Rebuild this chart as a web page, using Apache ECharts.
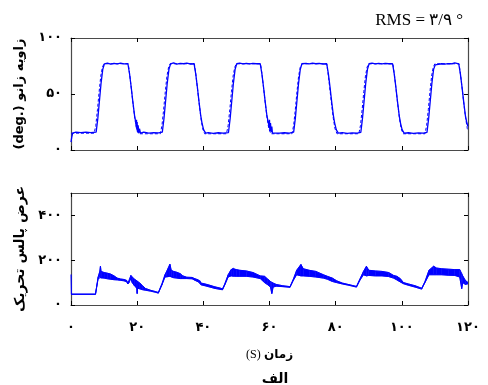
<!DOCTYPE html>
<html><head><meta charset="utf-8">
<script src="https://cdn.jsdelivr.net/npm/echarts@6/dist/echarts.min.js"></script>
<style>html,body{margin:0;padding:0;background:#fff}#c{width:488px;height:385px}</style>
</head><body><div id="c"></div><script>
// Knee angle: measured (solid) and desired (dashed), degrees vs seconds
const angleMeasured = [
 [0,7],[0.2,11],[0.5,15],[1.5,16],[3,15.5],[4.5,16],[6,15.6],[7.6,16],[8.1,28],[8.6,44],[9.1,60],[9.6,72],[10.1,77],
 [11,77.6],[12,76.6],[13,77.4],[14,76.8],[15,77.5],[16,76.9],[17.2,77],[17.7,68],[18.2,56],[18.7,43],[19.2,31],
 [19.5,26],[19.7,21],[19.8,27],[19.9,18],[20.0,25],[20.1,16],[20.3,22],[20.5,15],[20.7,19],[21,15],[22,16],
 [23.5,15],[25,15.6],[26.5,15.2],[27.6,16],
 [28.1,28],[28.6,44],[29.1,60],[29.6,72],[30.1,77],[31,77.8],[32,76.7],[33,77.3],[34,77],[35,77.6],[36,76.8],
 [37.2,77],[37.7,68],[38.2,56],[38.7,43],[39.2,31],[39.6,24],[40.1,18],[40.7,15],[41.5,15.6],[43,14.8],[44.5,15.4],
 [46,15],[47.6,15.6],
 [48.1,28],[48.6,44],[49.1,60],[49.6,72],[50.1,77],[51,77.5],[52,76.8],[53,77.4],[54,76.9],[55,77.3],[56,77],
 [57.2,77],[57.7,68],[58.2,56],[58.7,43],[59.2,31],[59.6,25],[59.9,20],[60.0,27],[60.1,17],[60.3,24],[60.5,16],
 [60.7,21],[60.9,15],[61.5,16],[63,15],[64.5,15.4],[66,15],[67.3,16],
 [67.8,28],[68.3,44],[68.8,60],[69.3,72],[69.8,77],[71,77.4],[72,76.8],[73,77.5],[74,77],[75,77.4],[76,76.8],
 [77.3,77],[77.8,68],[78.3,56],[78.8,43],[79.3,31],[79.7,24],[80.2,18],[80.8,15],[82,15.5],[83.5,14.8],[85,15.3],
 [86.5,15],[87.6,15.8],
 [88.1,28],[88.6,44],[89.1,60],[89.6,72],[90.1,77],[91,77.5],[92,76.9],[93,77.3],[94,76.8],[95,77.4],[96,77],
 [97.2,77],[97.7,68],[98.2,56],[98.7,43],[99.2,31],[99.6,24],[100.1,18],[100.7,15],[102,15.4],[103.5,14.8],
 [105,15.3],[106.5,15],[107.6,15.8],
 [108.1,28],[108.6,44],[109.1,60],[109.6,72],[110.1,76],[111,76.5],[112,77],[113,76.6],[114,77.2],[115,77],
 [116,77.8],[117.2,77],[117.7,68],[118.2,56],[118.7,43],[119.2,31],[119.6,25],[120,21]
];
const angleDesired = [
 [0,15],[7.0,15],[7.5,22],[8.0,36],[8.5,52],[9.0,66],[9.5,74],[10.0,77],[17.3,77],[17.8,66],[18.3,53],[18.8,40],[19.3,28],[19.8,19],[20.4,14.5],
 [27.0,14.5],[27.5,22],[28,36],[28.5,52],[29,66],[29.5,74],[30,77],[37.3,77],[37.8,66],[38.3,53],[38.8,40],[39.3,28],[39.8,19],[40.4,14.5],
 [47,14.5],[47.5,22],[48,36],[48.5,52],[49,66],[49.5,74],[50,77],[57.3,77],[57.8,66],[58.3,53],[58.8,40],[59.3,28],[59.8,19],[60.4,14.5],
 [66.8,14.5],[67.3,22],[67.8,36],[68.3,52],[68.8,66],[69.3,74],[69.8,77],[77.3,77],[77.8,66],[78.3,53],[78.8,40],[79.3,28],[79.8,19],[80.4,14.5],
 [87,14.5],[87.5,22],[88,36],[88.5,52],[89,66],[89.5,74],[90,77],[97.3,77],[97.8,66],[98.3,53],[98.8,40],[99.3,28],[99.8,19],[100.4,14.5],
 [107,14.5],[107.5,22],[108,36],[108.5,52],[109,66],[109.5,74],[110,77],[117.3,77],[117.8,66],[118.3,53],[118.8,40],[119.3,28],[119.8,19],[120,17]
];

// Stimulation pulse width: lower and upper envelope of the signal
const pulseTime = [0,0.1,7.4,8.2,8.7,8.9,9.1,10,11,12,13,14,15,16,16.8,17.2,17.6,18.1,18.5,19.2,19.9,20.0,20.1,20.8,21.7,22.5,24,25.5,26.4,
 27.5,28.4,28.9,29.9,30.3,31,32,33,33.8,35,36.6,37.5,38.5,39,39.3,40.5,42,43.5,45,45.8,
 46.5,47.5,48.4,49,50,51,53,55,57.2,58.5,59.5,60.3,60.7,61.1,62,64,66.2,
 67.2,68.2,69.5,70.2,72,74,76.3,77.5,79,80.3,82,84,86.3,
 87.3,88.4,89.3,90,92,94,96,97.5,98.5,99.5,100.5,102,104,106,
 107,108.2,109.6,110.5,112,114,116,117.5,118.1,118.4,119.2,120];
const pulseLow = [48,48,48,118,125,122,120,120,117,115,113,112,110,108,104,94,100,118,100,85,75,51,75,72,68,66,62,57,53,
 90,125,125,128,125,122,120,118,118,118,117,110,103,98,90,86,80,74,70,68,
 90,125,130,128,128,128,128,125,118,100,90,80,51,80,84,82,79,
 110,135,130,130,128,125,120,115,105,100,94,88,80,
 110,135,130,132,130,130,127,120,112,103,95,88,80,71,
 100,135,135,135,135,133,132,125,73,100,92,95];
const pulseHigh = [136,48,48,125,150,173,150,145,142,138,130,120,116,114,110,98,104,132,124,115,108,105,105,98,85,74,66,60,56,
 95,135,150,182,155,150,146,140,130,124,123,117,112,108,98,94,88,81,76,72,
 95,135,158,165,158,155,152,145,130,128,115,105,100,98,92,86,82,
 115,155,181,162,155,150,135,128,120,108,98,91,83,
 115,150,173,155,152,150,145,132,128,118,100,94,86,75,
 105,155,173,165,162,160,158,158,140,130,110,100];

const angleTicks = [0, 50, 100];
const pulseTicks = [0, 200, 400];
const pulseMax = 500;
const timeTicks = [0, 20, 40, 60, 80, 100, 120];

const toFa = v => String(v).replace(/\d/g, d => '۰۱۲۳۴۵۶۷۸۹'[d]);
const BLUE = '#0000ff';
const FRAME = '#4a4a4a';
const labelFont = {fontFamily: 'DejaVu Sans', fontWeight: 'bold', fontSize: 13, color: '#000'};

function xAx(grid, pos, labels) {
  return {type: 'value', gridIndex: grid, position: pos,
    min: timeTicks[0], max: timeTicks[timeTicks.length - 1], interval: timeTicks[1] - timeTicks[0],
    axisLine: {show: true, onZero: false, lineStyle: {color: FRAME, width: 1.2}},
    axisTick: {show: true, inside: true, length: 4, lineStyle: {color: '#000'}},
    axisLabel: labels ? Object.assign({show: true, margin: 16, formatter: toFa}, labelFont) : {show: false},
    splitLine: {show: false}};
}
function yAx(grid, pos, max, step, labels) {
  return {type: 'value', gridIndex: grid, position: pos, min: 0, max: max, interval: step,
    axisLine: {show: true, onZero: false, lineStyle: {color: FRAME, width: 1.2}},
    axisTick: {show: true, inside: true, length: 4, lineStyle: {color: '#000'}},
    axisLabel: labels ? Object.assign({show: true, margin: 9, showMaxLabel: max % step === 0, formatter: toFa}, labelFont) : {show: false},
    splitLine: {show: false}};
}

const angleStep = angleTicks[1] - angleTicks[0];
const pulseStep = pulseTicks[1] - pulseTicks[0];
const angleMax = angleTicks[angleTicks.length - 1];

const yTop = yAx(0, 'left', angleMax, angleStep, true);
yTop.name = '(deg.) زاویه زانو';
yTop.nameLocation = 'middle';
yTop.nameGap = 45;
yTop.nameTextStyle = {fontFamily: 'DejaVu Sans', fontWeight: 'bold', fontSize: 13, color: '#000'};
const yBot = yAx(1, 'left', pulseMax, pulseStep, true);
yBot.name = 'عرض پالس تحریک';
yBot.nameLocation = 'middle';
yBot.nameGap = 44;
yBot.nameTextStyle = {fontFamily: 'DejaVu Sans', fontWeight: 'bold', fontSize: 14, color: '#000'};
const xBot = xAx(1, 'bottom', true);
xBot.name = '{s|(S)} {f|زمان}';
xBot.nameLocation = 'middle';
xBot.nameGap = 44;
xBot.nameTextStyle = {rich: {
  s: {fontFamily: 'Liberation Serif', fontSize: 12, color: '#000'},
  f: {fontFamily: 'DejaVu Sans', fontWeight: 'bold', fontSize: 12, color: '#000'}}};

// Noise band of the pulse-width signal: one quad per segment between envelopes
const bandSegments = pulseTime.slice(1).map((t, i) =>
  [pulseTime[i], pulseLow[i], pulseHigh[i], t, pulseLow[i + 1], pulseHigh[i + 1]]);

const chart = echarts.init(document.getElementById('c'), null, {renderer: 'canvas'});
chart.setOption({
  animation: false,
  backgroundColor: '#fff',
  title: [
    {text: 'RMS = ۳/۹ °', right: 20, top: 7,
     textStyle: {fontFamily: 'Liberation Serif', fontWeight: 'normal', fontSize: 17, color: '#000'}},
    {text: 'الف', left: 270, top: 367, textAlign: 'center',
     textStyle: {fontFamily: 'DejaVu Sans', fontWeight: 'bold', fontSize: 14, color: '#000'}}
  ],
  grid: [
    {left: 71, right: 20, top: 38, height: 112},
    {left: 71, right: 20, top: 193, height: 112}
  ],
  xAxis: [xAx(0, 'bottom', false), xAx(0, 'top', false), xBot, xAx(1, 'top', false)],
  yAxis: [yTop, yAx(0, 'right', angleMax, angleStep, false), yBot, yAx(1, 'right', pulseMax, pulseStep, false)],
  series: [
    {type: 'line', xAxisIndex: 0, yAxisIndex: 0, data: angleDesired, showSymbol: false,
     lineStyle: {color: BLUE, width: 1, type: [3, 2]}},
    {type: 'line', xAxisIndex: 0, yAxisIndex: 0, data: angleMeasured, showSymbol: false,
     lineStyle: {color: BLUE, width: 1.3}},
    {type: 'custom', xAxisIndex: 2, yAxisIndex: 2, data: bandSegments,
     encode: {x: [0, 3], y: [1, 2, 4, 5]}, clip: true,
     renderItem: function (params, api) {
       const a = api.coord([api.value(0), api.value(1)]);
       const b = api.coord([api.value(3), api.value(4)]);
       const c = api.coord([api.value(3), api.value(5)]);
       const d = api.coord([api.value(0), api.value(2)]);
       return {type: 'polygon', shape: {points: [a, b, c, d]},
               style: {fill: BLUE, stroke: BLUE, lineWidth: 0.5}};
     }},
    {type: 'line', xAxisIndex: 2, yAxisIndex: 2, showSymbol: false,
     data: pulseTime.map((t, i) => [t, pulseLow[i]]),
     lineStyle: {color: BLUE, width: 1}},
    {type: 'line', xAxisIndex: 2, yAxisIndex: 2, showSymbol: false,
     data: pulseTime.map((t, i) => [t, pulseHigh[i]]),
     lineStyle: {color: BLUE, width: 1}}
  ]
});
</script></body></html>
